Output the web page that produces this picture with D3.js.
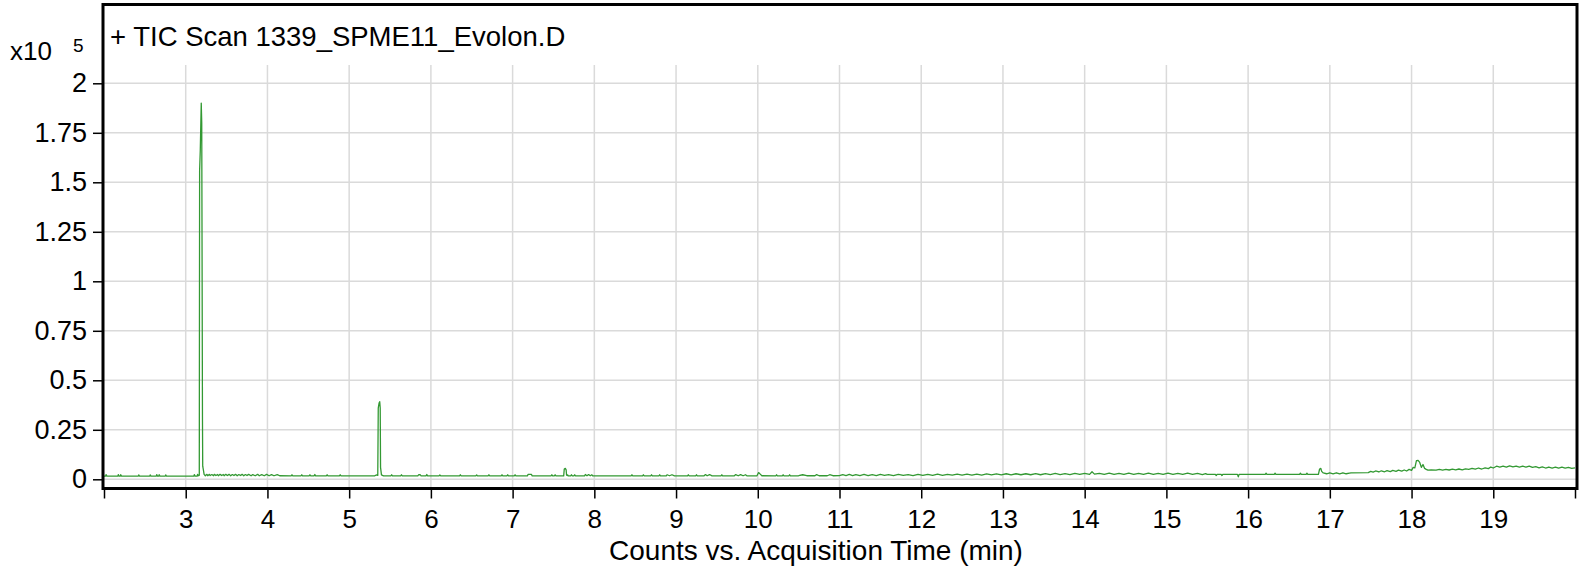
<!DOCTYPE html>
<html>
<head>
<meta charset="utf-8">
<script src="https://cdn.jsdelivr.net/npm/d3@7"></script>
<style>
  html, body { margin: 0; padding: 0; background: #fff; }
  svg { display: block; font-family: "Liberation Sans", Arial, sans-serif; }
</style>
</head>
<body>
<svg id="chart" width="1586" height="573"></svg>
<script>
// ---- data (counts in units of 10^5, time in minutes) ----
const chartTitle = "+ TIC Scan 1339_SPME11_Evolon.D";
const xAxisTitle = "Counts vs. Acquisition Time (min)";
const yScaleLabel = "x10";
const yScaleExp = "5";

const xTickValues = [2,3,4,5,6,7,8,9,10,11,12,13,14,15,16,17,18,19,20];
const xTickLabels = ["","3","4","5","6","7","8","9","10","11","12","13","14","15","16","17","18","19",""];
const yTickValues = [0,0.25,0.5,0.75,1,1.25,1.5,1.75,2];
const yTickLabels = ["0","0.25","0.5","0.75","1","1.25","1.5","1.75","2"];

const ticTrace = [
  [2.00,0.016],[2.02,0.016],[2.025,0.024],[2.035,0.016],[2.17,0.016],[2.175,0.024],[2.185,0.016],
  [2.2,0.016],[2.205,0.023],[2.215,0.016],[2.42,0.016],[2.425,0.022],[2.435,0.016],[2.56,0.016],
  [2.565,0.022],[2.575,0.016],[2.64,0.016],[2.645,0.024],[2.655,0.016],[2.67,0.016],[2.675,0.023],
  [2.685,0.016],[2.75,0.016],[2.755,0.022],[2.765,0.016],[3.10,0.016],[3.105,0.024],[3.115,0.016],
  [3.14,0.016],[3.145,0.025],[3.155,0.018],
  [3.166,0.02],[3.170,1.56],[3.178,1.66],[3.190,1.90],[3.196,1.80],[3.205,0.30],[3.208,0.066],
  [3.215,0.05],[3.225,0.025],
  [3.24,0.018],[3.26,0.025],[3.27,0.018],[3.29,0.025],[3.30,0.019],[3.32,0.024],[3.34,0.018],
  [3.35,0.025],[3.37,0.019],[3.39,0.024],[3.40,0.018],[3.42,0.025],[3.44,0.019],[3.46,0.024],
  [3.47,0.018],[3.49,0.025],[3.51,0.019],[3.53,0.025],[3.55,0.018],[3.57,0.024],[3.59,0.019],
  [3.61,0.025],[3.63,0.018],[3.65,0.024],[3.67,0.019],[3.69,0.025],[3.71,0.018],[3.73,0.024],
  [3.75,0.019],[3.77,0.025],[3.80,0.018],[3.82,0.024],[3.85,0.018],[3.88,0.025],[3.90,0.018],
  [3.93,0.024],[3.96,0.018],[3.99,0.025],[4.02,0.018],[4.05,0.024],[4.08,0.018],[4.12,0.024],
  [4.15,0.018],
  [4.29,0.017],[4.30,0.023],[4.31,0.017],[4.41,0.017],[4.42,0.023],[4.43,0.017],[4.51,0.017],
  [4.52,0.023],[4.53,0.017],[4.57,0.017],[4.58,0.024],[4.59,0.017],[4.72,0.017],[4.73,0.023],
  [4.74,0.017],[4.88,0.017],[4.89,0.023],[4.90,0.017],[5.31,0.017],[5.33,0.022],
  [5.350,0.02],[5.356,0.36],[5.366,0.385],[5.374,0.392],[5.380,0.36],[5.384,0.06],[5.39,0.04],
  [5.395,0.022],
  [5.42,0.017],[5.51,0.017],[5.52,0.023],[5.53,0.017],[5.63,0.017],[5.64,0.023],[5.65,0.017],
  [5.84,0.017],[5.85,0.023],[5.87,0.023],[5.88,0.017],[5.94,0.017],[5.95,0.024],[5.96,0.017],
  [6.10,0.017],[6.11,0.022],[6.12,0.017],[6.35,0.017],[6.36,0.023],[6.37,0.017],[6.55,0.017],
  [6.56,0.022],[6.57,0.017],[6.70,0.017],[6.71,0.023],[6.72,0.017],[6.86,0.017],[6.87,0.023],
  [6.88,0.017],[6.93,0.017],[6.94,0.023],[6.95,0.017],[7.02,0.017],[7.03,0.023],[7.04,0.017],
  [7.18,0.017],[7.19,0.025],[7.23,0.025],[7.24,0.017],[7.47,0.017],[7.48,0.023],[7.49,0.017],
  [7.51,0.017],[7.52,0.023],[7.53,0.017],
  [7.625,0.017],[7.632,0.052],[7.645,0.055],[7.655,0.048],[7.66,0.022],[7.665,0.02],[7.675,0.022],
  [7.68,0.017],[7.71,0.017],[7.72,0.023],[7.73,0.017],[7.75,0.017],[7.76,0.023],[7.77,0.017],
  [7.88,0.017],[7.89,0.024],[7.91,0.018],[7.93,0.024],[7.95,0.018],[7.97,0.023],[7.98,0.017],
  [8.45,0.017],[8.46,0.023],[8.47,0.017],[8.59,0.017],[8.60,0.023],[8.61,0.017],[8.69,0.017],
  [8.70,0.023],[8.71,0.017],[8.79,0.017],[8.80,0.023],[8.81,0.017],[8.88,0.017],[8.89,0.023],
  [8.92,0.018],[8.95,0.023],[8.98,0.017],[9.14,0.017],[9.15,0.023],[9.16,0.017],[9.24,0.017],
  [9.25,0.023],[9.26,0.017],[9.34,0.017],[9.36,0.024],[9.38,0.018],[9.41,0.024],[9.44,0.017],
  [9.55,0.017],[9.56,0.023],[9.57,0.017],[9.71,0.017],[9.73,0.024],[9.76,0.018],[9.79,0.024],
  [9.82,0.018],[9.85,0.023],[9.87,0.017],
  [9.99,0.018],[10.01,0.034],[10.03,0.026],[10.05,0.018],[10.22,0.017],[10.23,0.023],[10.24,0.017],
  [10.30,0.017],[10.31,0.023],[10.32,0.017],[10.38,0.017],[10.39,0.023],[10.40,0.017],
  [10.5,0.018],[10.55,0.023],[10.6,0.018],[10.7,0.018],[10.72,0.024],[10.75,0.018],[10.85,0.018],
  [10.88,0.023],[10.92,0.018],[11.0,0.019],[11.04,0.024],[11.08,0.019],[11.12,0.025],[11.16,0.019],
  [11.2,0.024],[11.25,0.019],[11.3,0.025],[11.35,0.019],[11.4,0.024],[11.45,0.019],[11.5,0.025],
  [11.55,0.02],[11.6,0.024],[11.66,0.019],[11.72,0.025],[11.78,0.02],[11.84,0.024],[11.9,0.019],
  [11.96,0.025],[12.02,0.02],[12.08,0.025],[12.14,0.02],[12.2,0.026],[12.26,0.02],[12.32,0.025],
  [12.38,0.021],[12.44,0.026],[12.5,0.021],[12.56,0.026],[12.62,0.021],[12.68,0.026],[12.74,0.021],
  [12.8,0.027],[12.86,0.022],[12.92,0.027],[12.98,0.022],
  [13.04,0.028],[13.1,0.022],[13.16,0.028],[13.22,0.023],[13.28,0.028],[13.34,0.023],[13.4,0.029],
  [13.46,0.023],[13.52,0.029],[13.58,0.024],[13.64,0.03],[13.7,0.024],[13.76,0.029],[13.82,0.024],
  [13.88,0.03],[13.94,0.025],[14.0,0.03],[14.06,0.025],[14.09,0.038],[14.12,0.026],[14.18,0.03],
  [14.24,0.025],[14.3,0.031],[14.36,0.025],[14.42,0.03],[14.48,0.025],[14.54,0.031],[14.6,0.025],
  [14.66,0.03],[14.72,0.025],[14.78,0.031],[14.84,0.025],[14.9,0.03],[14.96,0.025],[15.02,0.031],
  [15.08,0.025],[15.14,0.03],[15.2,0.025],[15.26,0.031],[15.32,0.025],[15.38,0.03],[15.44,0.024],
  [15.48,0.029],
  [15.5,0.025],[15.6,0.025],[15.61,0.019],[15.62,0.025],[15.67,0.025],[15.68,0.019],[15.69,0.025],
  [15.87,0.025],[15.88,0.012],[15.89,0.025],[16.21,0.025],[16.22,0.031],[16.23,0.025],[16.32,0.025],
  [16.33,0.031],[16.34,0.025],[16.63,0.025],[16.64,0.031],[16.65,0.025],[16.71,0.025],[16.72,0.031],
  [16.73,0.025],[16.86,0.025],[16.875,0.052],[16.89,0.055],[16.9,0.04],[16.92,0.032],
  [16.96,0.028],[17.0,0.033],[17.04,0.028],[17.08,0.033],[17.12,0.028],[17.16,0.033],[17.2,0.028],
  [17.24,0.031],[17.26,0.032],[17.47,0.034],
  [17.5,0.04],[17.53,0.036],[17.56,0.042],[17.6,0.037],[17.63,0.043],[17.67,0.038],[17.7,0.044],
  [17.74,0.039],[17.77,0.045],[17.81,0.04],[17.84,0.046],[17.88,0.041],[17.91,0.047],[17.94,0.042],
  [17.97,0.05],[18.0,0.045],[18.02,0.06],[18.04,0.058],[18.06,0.094],[18.08,0.096],[18.1,0.085],
  [18.12,0.06],[18.14,0.075],[18.16,0.055],[18.18,0.05],[18.2,0.046],
  [18.24,0.047],[18.3,0.046],[18.34,0.05],[18.38,0.046],[18.42,0.05],[18.46,0.047],[18.5,0.051],
  [18.54,0.048],[18.58,0.052],[18.62,0.048],[18.66,0.053],[18.7,0.05],[18.74,0.055],[18.78,0.051],
  [18.82,0.057],[18.86,0.052],[18.9,0.058],[18.94,0.054],[18.97,0.062],[19.0,0.057],[19.04,0.066],
  [19.08,0.062],[19.12,0.067],[19.16,0.062],[19.2,0.068],[19.24,0.063],[19.28,0.067],[19.32,0.062],
  [19.36,0.066],[19.4,0.061],[19.44,0.067],[19.48,0.06],[19.52,0.064],[19.56,0.058],[19.6,0.063],
  [19.64,0.057],[19.68,0.062],[19.72,0.057],[19.76,0.061],[19.8,0.056],[19.84,0.061],[19.88,0.056],
  [19.92,0.06],[19.96,0.055],[20.0,0.058]
];

// ---- layout ----
const svg = d3.select("#chart");
const frame = { left: 103, right: 1577, top: 4.5, bottom: 488.5 };
const gridTop = 65;

const x = d3.scaleLinear().domain([2, 20]).range([104, 1575]);
const y = d3.scaleLinear().domain([0, 2]).range([479.3, 83.3]);

// gridlines
const grid = svg.append("g");
grid.selectAll("line.v").data(xTickValues.slice(1, -1)).enter().append("line")
  .attr("x1", d => x(d)).attr("x2", d => x(d))
  .attr("y1", gridTop).attr("y2", frame.bottom)
  .attr("stroke", "#dadada").attr("stroke-width", 1.5);
grid.selectAll("line.h").data(yTickValues).enter().append("line")
  .attr("x1", frame.left).attr("x2", frame.right)
  .attr("y1", d => y(d)).attr("y2", d => y(d))
  .attr("stroke", "#dadada").attr("stroke-width", 1.5);

// trace
svg.append("defs").append("clipPath").attr("id", "clip")
  .append("rect").attr("x", frame.left).attr("y", frame.top)
  .attr("width", frame.right - frame.left).attr("height", frame.bottom - frame.top);

const line = d3.line().x(d => x(d[0])).y(d => y(d[1]));
svg.append("path").datum(ticTrace)
  .attr("clip-path", "url(#clip)")
  .attr("d", line)
  .attr("fill", "none")
  .attr("stroke", "#339933")
  .attr("stroke-width", 1.3)
  .attr("stroke-linejoin", "round");

// frame
svg.append("rect")
  .attr("x", frame.left).attr("y", frame.top)
  .attr("width", frame.right - frame.left).attr("height", frame.bottom - frame.top)
  .attr("fill", "none").attr("stroke", "#000").attr("stroke-width", 3);

// axes
const yAxis = d3.axisLeft(y).tickValues(yTickValues)
  .tickFormat((d, i) => yTickLabels[i]).tickSize(9).tickPadding(6);
const gy = svg.append("g").attr("transform", `translate(${frame.left - 1},0)`).call(yAxis);
gy.select(".domain").remove();
gy.selectAll(".tick line").attr("stroke", "#000").attr("stroke-width", 1.5);
gy.selectAll(".tick text").attr("font-size", 27).attr("fill", "#000")
  .attr("font-family", '"Liberation Sans", Arial, sans-serif');

const xAxis = d3.axisBottom(x).tickValues(xTickValues)
  .tickFormat((d, i) => xTickLabels[i]).tickSize(9).tickPadding(11);
const gx = svg.append("g").attr("transform", `translate(0,${frame.bottom + 1})`).call(xAxis);
gx.select(".domain").remove();
gx.selectAll(".tick line").attr("stroke", "#000").attr("stroke-width", 1.5);
gx.selectAll(".tick text").attr("font-size", 26).attr("fill", "#000")
  .attr("font-family", '"Liberation Sans", Arial, sans-serif');

// texts
svg.append("text").attr("x", 110).attr("y", 46).attr("font-size", 27.5).attr("fill", "#000")
  .text(chartTitle);
svg.append("text").attr("x", 816).attr("y", 559.5).attr("text-anchor", "middle")
  .attr("font-size", 28).attr("fill", "#000").text(xAxisTitle);
svg.append("text").attr("x", 10).attr("y", 60).attr("font-size", 26).attr("fill", "#000")
  .text(yScaleLabel);
svg.append("text").attr("x", 73).attr("y", 51.5).attr("font-size", 19).attr("fill", "#000")
  .text(yScaleExp);
</script>
</body>
</html>
